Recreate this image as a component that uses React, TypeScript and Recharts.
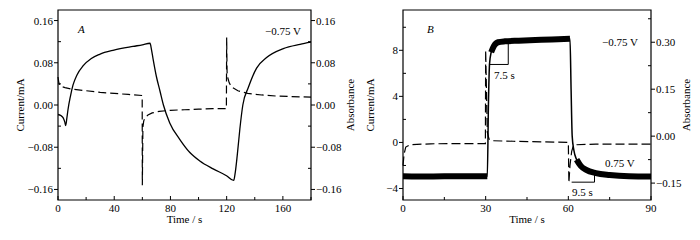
import React from "react";
import { ComposedChart, Line, XAxis, YAxis, ReferenceArea, ReferenceLine } from "recharts";

const FONT = '"Liberation Serif", "DejaVu Serif", serif';

// ---- panel A : current (dashed) and absorbance (solid), 0-180 s
const tA_cur = [0, 0.6, 1.5, 5, 10, 20, 30, 40, 50, 59.9, 60.0, 60.4, 61, 62, 64, 67, 72, 80, 90, 100, 110, 119.8, 120, 120.3, 120.8, 121.8, 123.5, 128, 135, 145, 155, 165, 180];
const curA = [0.053, 0.042, 0.036, 0.033, 0.03, 0.027, 0.024, 0.022, 0.02, 0.018, -0.152, -0.042, -0.03, -0.024, -0.019, -0.015, -0.012, -0.01, -0.009, -0.008, -0.007, -0.007, 0.128, 0.062, 0.052, 0.042, 0.034, 0.027, 0.022, 0.019, 0.017, 0.016, 0.015];

const tA_abs = [0, 2, 3.6, 4.8, 5.5, 6.3, 7.1, 8.8, 10.7, 13.5, 17.8, 23.7, 29.6, 39.8, 53.4, 60, 65.5, 66.5, 67.6, 70, 72.5, 75, 79.5, 86.6, 93.8, 100.9, 110.4, 119.9, 125, 126.1, 127.5, 129.4, 131.5, 135.4, 141.3, 148.4, 160.3, 172.2, 180];
const absA = [-0.018, -0.02, -0.024, -0.032, -0.039, -0.025, -0.009, 0.016, 0.038, 0.057, 0.074, 0.088, 0.096, 0.104, 0.111, 0.114, 0.117, 0.105, 0.088, 0.054, 0.027, 0.0, -0.034, -0.065, -0.09, -0.106, -0.121, -0.134, -0.143, -0.128, -0.096, -0.045, 0.0, 0.033, 0.07, 0.09, 0.107, 0.115, 0.119];

const xTicksA = [0, 20, 40, 60, 80, 100, 120, 140, 160, 180];
const xLabelsA = [0, 40, 80, 120, 160];
const yTicksA = [-0.16, -0.12, -0.08, -0.04, 0, 0.04, 0.08, 0.12, 0.16];
const yLabelsA = [-0.16, -0.08, 0, 0.08, 0.16];

// ---- panel B : 0-90 s
const tB_cur = [0, 0.4, 1.0, 2.5, 10, 20, 29.9, 30.0, 30.6, 31.2, 32, 40, 50, 60.0, 60.2, 60.6, 61.2, 61.8, 63, 70, 80, 90];
const curB = [-2.0, -1.0, -0.4, -0.2, -0.12, -0.1, -0.1, 8.0, 0.9, 0.3, 0.15, 0.1, 0.05, 0.0, -3.5, -2.0, -0.8, -0.3, -0.2, -0.15, -0.15, -0.15];

const tB_abs = [0, 10, 20, 30.6, 31.0, 31.4, 32, 33, 34.5, 37, 42, 48, 54, 60.6, 61.0, 61.4, 62, 63, 64.5, 66.5, 70, 75, 82, 90];
const absB = [-0.128, -0.129, -0.128, -0.128, 0.1, 0.23, 0.268, 0.288, 0.3, 0.303, 0.305, 0.307, 0.309, 0.311, 0.15, 0.0, -0.045, -0.075, -0.095, -0.108, -0.118, -0.124, -0.128, -0.129];
// time spans where the absorbance trace is a thick noisy band
const noisyB = [[0, 30.6], [32, 60.6], [63, 90]];

const xTicksB = [0, 15, 30, 45, 60, 75, 90];
const xLabelsB = [0, 30, 60, 90];
const yTicksB = [-4, -2, 0, 2, 4, 6, 8, 10];
const yLabelsB = [-4, 0, 4, 8];
const y2TicksB = [-0.15, -0.075, 0, 0.075, 0.15, 0.225, 0.3, 0.375];
const y2LabelsB = [-0.15, 0, 0.15, 0.3];

const rows = (t: number[], v: number[]) => t.map((x, i) => ({ t: x, v: v[i] }));
const fmt2 = (v: number) => (v < 0 ? "\u2212" : "") + Math.abs(v).toFixed(2);
const fmt0 = (v: number) => (v < 0 ? "\u2212" : "") + Math.abs(v);

function makeTick(side: "left" | "right" | "bottom", labels: number[], fmt: (v: number) => string) {
  return (props: any) => {
    const { x, y, payload } = props;
    const v = payload.value;
    const major = labels.some((l) => Math.abs(l - v) < 1e-9);
    const txt = { fill: "#000", fontSize: 11, fontFamily: FONT } as const;
    if (side === "bottom") {
      return (
        <g>
          <line x1={x} x2={x} y1={y} y2={y - (major ? 4 : 3)} stroke="#000" />
          {major && (
            <text x={x} y={y + 12} textAnchor="middle" {...txt}>
              {fmt(v)}
            </text>
          )}
        </g>
      );
    }
    const dir = side === "left" ? -1 : 1;
    return (
      <g>
        {major ? (
          <line x1={x} x2={x + dir * 4} y1={y} y2={y} stroke="#000" />
        ) : (
          <line x1={x} x2={x - dir * 3} y1={y} y2={y} stroke="#000" />
        )}
        {major && (
          <text x={x + dir * 5} y={y + 4} textAnchor={side === "left" ? "end" : "start"} {...txt}>
            {fmt(v)}
          </text>
        )}
      </g>
    );
  };
}

const labelStyle = { fill: "#000", fontSize: 11, fontFamily: FONT, textAnchor: "middle" } as any;

function Note({ x, y, children, italic }: { x: number; y: number; children: React.ReactNode; italic?: boolean }) {
  return (
    <span
      style={{
        position: "absolute",
        left: x,
        top: y - 7,
        fontFamily: FONT,
        fontSize: 11,
        lineHeight: "14px",
        fontStyle: italic ? "italic" : "normal",
        whiteSpace: "nowrap",
        color: "#000",
      }}
    >
      {children}
    </span>
  );
}

function PanelA() {
  return (
    <ComposedChart width={358} height={240} margin={{ top: 10, right: 0, bottom: 0, left: 0 }}>
      <XAxis
        dataKey="t"
        type="number"
        domain={[0, 180]}
        ticks={xTicksA}
        interval={0}
        height={40}
        tickSize={0}
        tickMargin={0}
        axisLine={false}
        tick={makeTick("bottom", xLabelsA, fmt0)}
        label={{ value: "Time / s", position: "insideBottom", offset: 17, style: labelStyle }}
      />
      <YAxis
        yAxisId="cur"
        type="number"
        domain={[-0.18, 0.18]}
        ticks={yTicksA}
        interval={0}
        width={58}
        tickSize={0}
        tickMargin={0}
        axisLine={false}
        tick={makeTick("left", yLabelsA, fmt2)}
        label={{ value: "Current/mA", angle: -90, position: "insideLeft", offset: 20, style: labelStyle }}
      />
      <YAxis
        yAxisId="abs"
        orientation="right"
        type="number"
        domain={[-0.18, 0.18]}
        ticks={yTicksA}
        interval={0}
        width={47}
        tickSize={0}
        tickMargin={0}
        axisLine={false}
        tick={makeTick("right", yLabelsA, fmt2)}
        label={{ value: "Absorbance", angle: -90, position: "insideRight", offset: 8, style: labelStyle }}
      />
      <ReferenceArea yAxisId="cur" x1={0} x2={180} y1={-0.18} y2={0.18} fill="none" stroke="#000" strokeWidth={1.2} />
      <Line
        yAxisId="cur"
        data={rows(tA_cur, curA)}
        dataKey="v"
        type="linear"
        stroke="#000"
        strokeWidth={1.2}
        strokeDasharray="8 4"
        dot={false}
        isAnimationActive={false}
      />
      <Line
        yAxisId="abs"
        data={rows(tA_abs, absA)}
        dataKey="v"
        type="monotone"
        stroke="#000"
        strokeWidth={1.3}
        dot={false}
        isAnimationActive={false}
      />
    </ComposedChart>
  );
}

function PanelB() {
  const abs = tB_abs.map((t, i) => ({
    t,
    v: absB[i],
    band: noisyB.some(([a, b]) => t >= a && t <= b) ? absB[i] : null,
  }));
  return (
    <ComposedChart width={342} height={240} margin={{ top: 10, right: 0, bottom: 0, left: 0 }}>
      <XAxis
        dataKey="t"
        type="number"
        domain={[0, 90]}
        ticks={xTicksB}
        interval={0}
        height={40}
        tickSize={0}
        tickMargin={0}
        axisLine={false}
        tick={makeTick("bottom", xLabelsB, fmt0)}
        label={{ value: "Time / s", position: "insideBottom", offset: 17, style: labelStyle }}
      />
      <YAxis
        yAxisId="cur"
        type="number"
        domain={[-5, 11.5]}
        ticks={yTicksB}
        interval={0}
        width={45}
        tickSize={0}
        tickMargin={0}
        axisLine={false}
        tick={makeTick("left", yLabelsB, fmt0)}
        label={{ value: "Current/mA", angle: -90, position: "insideLeft", offset: 12, style: labelStyle }}
      />
      <YAxis
        yAxisId="abs"
        orientation="right"
        type="number"
        domain={[-0.204, 0.403]}
        ticks={y2TicksB}
        interval={0}
        width={49}
        tickSize={0}
        tickMargin={0}
        axisLine={false}
        tick={makeTick("right", y2LabelsB, fmt2)}
        label={{ value: "Absorbance", angle: -90, position: "insideRight", offset: 14, style: labelStyle }}
      />
      <ReferenceArea yAxisId="cur" x1={0} x2={90} y1={-5} y2={11.5} fill="none" stroke="#000" strokeWidth={1.2} />
      <Line
        yAxisId="cur"
        data={rows(tB_cur, curB)}
        dataKey="v"
        type="linear"
        stroke="#000"
        strokeWidth={1.2}
        strokeDasharray="9 4"
        dot={false}
        isAnimationActive={false}
      />
      <Line
        yAxisId="abs"
        data={abs}
        dataKey="v"
        type="monotone"
        stroke="#000"
        strokeWidth={1.5}
        dot={false}
        isAnimationActive={false}
      />
      <Line
        yAxisId="abs"
        data={abs}
        dataKey="band"
        type="monotone"
        stroke="#000"
        strokeWidth={6}
        dot={false}
        connectNulls={false}
        isAnimationActive={false}
      />
      <ReferenceLine yAxisId="abs" segment={[{ x: 31.2, y: 0.229 }, { x: 38.2, y: 0.229 }]} stroke="#000" />
      <ReferenceLine yAxisId="abs" segment={[{ x: 38.2, y: 0.229 }, { x: 38.2, y: 0.3 }]} stroke="#000" />
      <ReferenceLine yAxisId="abs" segment={[{ x: 61.2, y: -0.147 }, { x: 69.5, y: -0.147 }]} stroke="#000" />
      <ReferenceLine yAxisId="abs" segment={[{ x: 69.5, y: -0.147 }, { x: 69.5, y: -0.11 }]} stroke="#000" />
    </ComposedChart>
  );
}

export default function App() {
  return (
    <div style={{ position: "absolute", left: 0, top: 0, width: 700, height: 240, background: "#fff", overflow: "hidden" }}>
      <div style={{ position: "absolute", left: 0, top: 0 }}>
        <PanelA />
      </div>
      <div style={{ position: "absolute", left: 358, top: 0 }}>
        <PanelB />
      </div>
      <Note x={78} y={29} italic>A</Note>
      <Note x={265} y={31}>{"\u22120.75 V"}</Note>
      <Note x={427} y={29} italic>B</Note>
      <Note x={602} y={42}>{"\u22120.75 V"}</Note>
      <Note x={494} y={75}>7.5 s</Note>
      <Note x={572} y={192}>9.5 s</Note>
      <Note x={605} y={163}>0.75 V</Note>
    </div>
  );
}
